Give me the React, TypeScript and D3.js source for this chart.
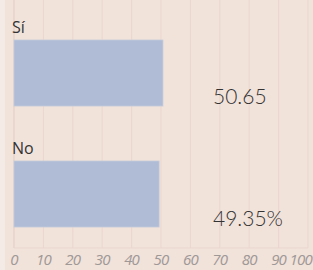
import * as d3 from 'd3';
import React from 'react';

const categories = ['Sí', 'No'];
const values = [50.65, 49.35];
const valueLabels = ['50.65', '49.35%'];
const ticks = [0, 10, 20, 30, 40, 50, 60, 70, 80, 90, 100];

const W = 313;
const H = 270;

const App = () => {
	const x = d3.scaleLinear().domain([0, 100]).range([14, 308]);
	const y = d3.scaleBand().domain(categories).range([16, 258]).paddingInner(0).paddingOuter(0);
	const gridBottom = 248;

	return (
		<svg width={W} height={H} style={{ position: 'fixed', top: 0, left: 0 }}>
			<rect x={0} y={0} width={W} height={H} fill="#f1e2da" />
			<rect x={0} y={0} width={5} height={H} fill="#f5ebe6" />
			{ticks.map((t) => (
				<line key={t} x1={x(t)} x2={x(t)} y1={0} y2={gridBottom} stroke={t === 0 ? '#e0cdc5' : '#e9d7cf'} strokeWidth={1} />
			))}
			<line x1={x(0)} x2={x(100)} y1={gridBottom} y2={gridBottom} stroke="#e9d7cf" />
			{categories.map((c, i) => {
				const top = (y(c) as number);
				const barY = top + 24;
				const barH = 66;
				return (
					<g key={c}>
						<text x={12} y={top + 17} fontFamily="'Open Sans', sans-serif" fontSize={16} fill="#333">{c}</text>
						<rect x={x(0)} y={barY} width={x(values[i]) - x(0)} height={barH} fill="#b0bcd5" stroke="#c3cbdb" strokeWidth={0.8} />
						<text x={213} y={barY + (i === 0 ? 64 : 65)} fontFamily="Lato, sans-serif" fontWeight={300} fontSize={21} fill="#333">{valueLabels[i]}</text>
					</g>
				);
			})}
			{ticks.map((t) => (
				<text key={t} x={t === 100 ? W - 1 : x(t)} y={265} textAnchor={t === 100 ? 'end' : 'middle'} fontFamily="'Open Sans', sans-serif" fontStyle="italic" fontSize={15} fill="#9e9896" letterSpacing={-0.8}>{t}</text>
			))}
		</svg>
	);
};

export default App;
